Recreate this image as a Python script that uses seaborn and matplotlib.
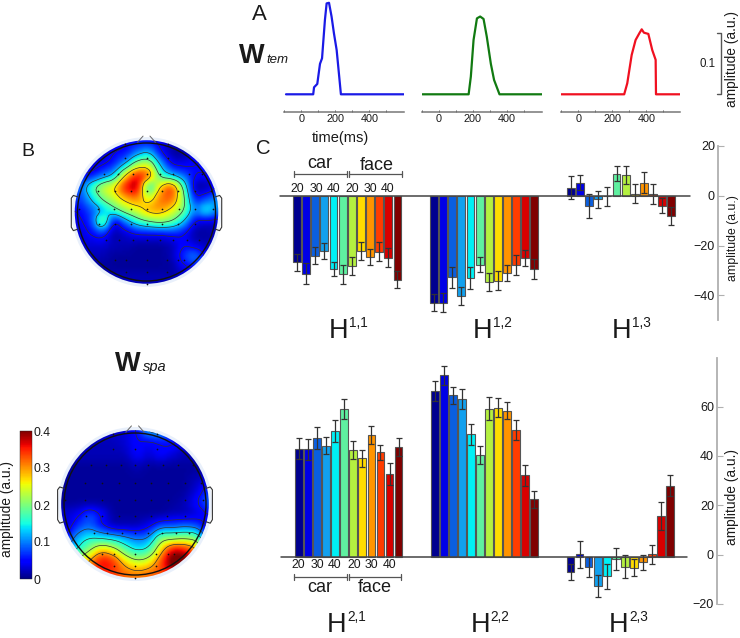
import matplotlib
matplotlib.use("Agg")
import matplotlib.pyplot as plt
from matplotlib.patches import Circle
import numpy as np
import pandas as pd
import seaborn as sns

W, H = 740, 638

# A: temporal components
time_blue = [-90, 70, 75, 94, 110, 122, 139, 149, 163, 178, 192, 208, 223, 233, 610]
amp_blue = [0, 0, .023, .034, .10, .118, .244, .298, .30, .255, .2, .145, .058, 0, 0]
time_green = [-98, 175, 188, 204, 224, 243, 263, 282, 306, 325, 357, 608]
amp_green = [0, 0, .058, .178, .249, .255, .247, .189, .10, .047, 0, 0]
time_red = [-100, 270, 288, 314, 337, 359, 373, 386, 412, 435, 455, 457, 598]
amp_red = [0, 0, .036, .129, .178, .2, .213, .202, .198, .145, .113, 0, 0]

# C: bar heights and errors, top row
h11 = [-26.7, -31.2, -23.9, -22.1, -29.3, -31.5, -28.1, -22.1, -24.5, -22.4, -24.8, -33.6]
h11_err = [3.6, 4.3, 3.5, 3.3, 2.9, 3.7, 3.5, 3.5, 3.3, 3.9, 3.9, 3.4]
h12 = [-42.9, -42.9, -32.7, -40.1, -32.9, -27.6, -34.5, -34.0, -30.9, -27.7, -24.9, -29.3]
h12_err = [3.4, 3.8, 4.2, 3.5, 4.3, 3.0, 3.7, 3.9, 3.3, 4.1, 3.1, 3.9]
h13 = [3.3, 5.3, -4.0, -1.3, -0.2, 9.0, 8.4, 1.0, 5.3, 0.8, -4.0, -8.0]
h13_err = [4.7, 3.0, 4.8, 3.4, 3.9, 3.0, 3.7, 4.0, 4.2, 4.2, 3.0, 3.5]

# bottom row
h21 = [43.8, 43.5, 48.1, 45.0, 50.9, 59.7, 43.2, 39.9, 49.2, 42.3, 33.4, 44.5]
h21_err = [4.3, 4.3, 4.3, 3.6, 4.3, 4.1, 3.7, 3.5, 3.7, 3.0, 4.5, 3.6]
h22 = [67.0, 73.4, 65.3, 63.8, 49.6, 41.1, 59.9, 60.3, 59.1, 51.4, 33.0, 23.2]
h22_err = [4.1, 3.7, 3.4, 4.0, 4.3, 3.6, 4.7, 3.8, 3.5, 4.0, 4.3, 3.4]
h23 = [-6.1, 0.9, -4.1, -11.9, -8.0, -0.9, -4.0, -4.5, -2.3, 0.9, 16.4, 28.8]
h23_err = [3.2, 5.3, 4.0, 4.5, 4.9, 4.6, 4.7, 3.5, 3.1, 3.9, 5.7, 4.2]

bar_colors = ['#00008f', '#0000e6', '#0a5fe0', '#12a0ee', '#00f0f5', '#5ff0a0',
              '#b4f040', '#ffdc00', '#ff9400', '#ff3c00', '#d80000', '#800000']
cond_labels = ['20', '30', '40', '20', '30', '40']

# B: scalp maps, values read on a 13x13 grid, front of the head on top
map_top = [
    [.02, .02, .02, .03, .05, .05, .05, .04, .02, .02, .02, .02, .02],
    [.02, .02, .02, .05, .05, .10, .13, .05, .01, .01, .04, .03, .03],
    [.03, .03, .04, .06, .12, .22, .24, .12, .04, .035, .05, .06, .05],
    [.05, .05, .09, .13, .28, .37, .33, .17, .12, .09, .05, .05, .05],
    [.08, .17, .24, .27, .37, .39, .13, .28, .35, .18, .01, .01, .05],
    [.07, .13, .20, .24, .29, .31, .24, .32, .33, .21, .05, .08, .11],
    [.05, .08, .12, .17, .22, .25, .30, .30, .26, .20, .10, .16, .10],
    [.04, .07, .22, .03, .10, .16, .19, .21, .19, .13, .04, .03, .03],
    [.03, .05, .07, .01, .03, .05, .05, .05, .06, .05, .01, .01, .02],
    [.03, .03, .03, .02, .02, .01, .01, .01, .02, .05, .03, .02, .03],
    [.02, .02, .02, .01, .01, .01, .01, .01, .02, .07, .11, .04, .02],
    [.01, .01, .01, .01, .01, .01, .01, .01, .01, .04, .05, .03, .02],
    [.02, .02, .02, .02, .02, .02, .02, .02, .02, .02, .02, .02, .02],
]
map_bottom = [
    [.03, .03, .03, .03, .03, .03, .05, .12, .12, .06, .03, .03, .03],
    [.02, .02, .02, .02, .02, .03, .05, .04, .05, .06, .03, .02, .02],
    [.02, .02, .02, .02, .02, .02, .05, .03, .05, .03, .02, .02, .02],
    [.01, .01, .01, .01, .01, .01, .02, .01, .01, .01, .01, .01, .01],
    [.01, .01, .01, .01, .01, .01, .01, .01, .01, .01, .01, .02, .03],
    [.01, .01, .01, .01, .01, .01, .01, .01, .01, .01, .01, .03, .07],
    [.01, .01, .01, .01, .01, .01, .01, .01, .01, .01, .02, .05, .09],
    [.03, .04, .08, .05, .01, .01, .01, .01, .01, .02, .02, .03, .05],
    [.02, .07, .09, .05, .02, .02, .02, .04, .08, .08, .09, .08, .03],
    [.05, .12, .15, .14, .13, .11, .09, .10, .20, .20, .21, .20, .05],
    [.10, .15, .21, .28, .25, .18, .14, .16, .27, .37, .36, .30, .15],
    [.22, .24, .30, .37, .35, .27, .23, .25, .33, .43, .43, .36, .27],
    [.28, .30, .32, .35, .34, .32, .31, .32, .33, .36, .36, .34, .30],
]
elec_x = [-.31, .31, -.31, 0, .31,
          -.62, -.41, -.2, 0, .19, .39, .61, .81,
          -.71, -.46, -.23, 0, .23, .46, .71, .93,
          -.98, -.71, -.47, -.23, 0, .23, .47, .71, .96,
          -.69, -.46, -.23, 0, .23, .45, .70,
          -.58, -.40, -.19, 0, .19, .38, .58, .76,
          -.46, -.29, 0, .29, .46, .55,
          -.29, 0, .29, 0]
elec_y = [.98, .98, .78, .78, .78,
          .55, .55, .55, .55, .55, .55, .55, .55,
          .30, .30, .30, .30, .30, .30, .30, .30,
          .05, .05, .05, .05, .05, .05, .05, .05, .05,
          -.17, -.17, -.17, -.17, -.17, -.17, -.17,
          -.41, -.41, -.41, -.41, -.41, -.41, -.41, -.41,
          -.70, -.70, -.70, -.70, -.70, -.70,
          -.87, -.87, -.87, -1.04]

sns.set_theme(style='white')
plt.rcParams['font.family'] = ['Liberation Sans', 'DejaVu Sans']
plt.rcParams['text.color'] = '#1a1a1a'
plt.rcParams['xtick.color'] = '#1a1a1a'
plt.rcParams['ytick.color'] = '#1a1a1a'

fig = plt.figure(figsize=(W / 100, H / 100), dpi=100)


def px_axes(x0, y0, x1, y1):
    ax = fig.add_axes([x0 / W, 1 - y1 / H, (x1 - x0) / W, (y1 - y0) / H])
    ax.patch.set_alpha(0)
    return ax


def txt(x, y, s, size=9, **kw):
    kw.setdefault('ha', 'center')
    kw.setdefault('va', 'center')
    fig.text(x / W, 1 - y / H, s, fontsize=size, **kw)


def time_panel(x_zero, x_lo, x_hi, t, a, color):
    scale = 0.17
    ax = px_axes(x_lo, 0, x_hi, 111.7)
    sns.lineplot(x=t, y=a, color=color, lw=1.6, ax=ax, errorbar=None)
    ax.set_xlim((x_lo - x_zero) / scale, (x_hi - x_zero) / scale)
    ax.set_ylim(-17.4 / 305, 94.3 / 305)
    sns.despine(ax=ax, left=True)
    ax.spines['bottom'].set_color('#777777')
    ax.spines['bottom'].set_linewidth(1.1)
    ax.set_yticks([])
    ax.set_xticks([0, 200, 400])
    ax.set_xticks([-100, 100, 300, 500], minor=True)
    ax.tick_params(axis='x', which='both', direction='in', length=1.5, width=.7,
                   bottom=True, color='#555555', labelsize=7.8, pad=2)


def bar_panel(groups, errs, x_first, step, zero_y, unit, y0, y1, line_lo, line_hi):
    rows = []
    for g, vals in enumerate(groups):
        for c, v in enumerate(vals):
            rows.append({'pos': g * 15 + c, 'cond': c, 'value': v, 'err': errs[g][c]})
    df = pd.DataFrame(rows)
    ax = px_axes(278, y0, 692, y1)
    sns.barplot(data=df, x='pos', y='value', hue='cond', palette=bar_colors, saturation=1,
                native_scale=True, dodge=False, width=0.86, legend=False,
                edgecolor='#555555', linewidth=.8, errorbar=None, ax=ax, zorder=2)
    ax.errorbar(df['pos'], df['value'], yerr=df['err'], fmt='none', ecolor='#333333',
                elinewidth=.9, capsize=2.2, capthick=.9, zorder=3)
    ax.set_xlim((278 - x_first) / step, (692 - x_first) / step)
    ax.set_ylim(-(y1 - zero_y) / unit, (zero_y - y0) / unit)
    ax.plot([(line_lo - x_first) / step, (line_hi - x_first) / step], [0, 0],
            color='#444444', lw=1.1, zorder=4)
    ax.axis('off')


def right_axis(x, y0, y1, top, unit, ticks, label_y, label_size):
    ax = px_axes(x, y0, x + 14, y1)
    ax.set_ylim(top - (y1 - y0) / unit, top)
    ax.set_xticks([])
    ax.set_yticks(ticks)
    sns.despine(ax=ax, right=True, top=True, bottom=True)
    ax.spines['left'].set_color('#b0b0b0')
    ax.spines['left'].set_linewidth(1.3)
    ax.tick_params(axis='y', direction='in', length=4, width=.8, color='#b0b0b0',
                   labelsize=9, pad=2, left=True)
    txt(x + 15, label_y, 'amplitude (a.u.)', size=label_size, rotation=90)


def soften(z, k=6):
    # finer raster of the read grid, so the contours come out round
    big = np.repeat(np.repeat(np.array(z), k, axis=0), k, axis=1)
    kernel = np.ones(k) / k
    for axis in (0, 1, 0, 1):
        big = np.apply_along_axis(
            lambda m: np.convolve(np.pad(m, k, mode='edge'), kernel, mode='same')[k:-k],
            axis, big)
    return big


def scalp(cx, cy, r, values, levels):
    hr = r * 1.09
    ax = px_axes(cx - hr - 16, cy - hr - 16, cx + hr + 16, cy + hr + 16)
    ax.set_xlim(-(hr + 16) / r, (hr + 16) / r)
    ax.set_ylim(-(hr + 16) / r, (hr + 16) / r)
    ax.axis('off')
    ax.add_patch(Circle((0, 0), 1.085, fc='#e9f0fb', ec='none', zorder=1))
    z = soften(np.array(values)[::-1])
    grid = np.linspace(-1.083, 1.083, z.shape[0])
    im = ax.imshow(z, extent=[-1.083, 1.083, -1.083, 1.083], origin='lower', cmap='jet',
                   vmin=0, vmax=.4, interpolation='bilinear', zorder=2, aspect='auto')
    clip = Circle((0, 0), 1.04, transform=ax.transData)
    im.set_clip_path(clip)
    cs = ax.contour(grid, grid, z, levels=levels, colors='#333333', linewidths=.5, zorder=3)
    cs.set_clip_path(clip)
    ax.add_patch(Circle((0, 0), 1, fc='none', ec='#111111', lw=1, zorder=4))
    ax.scatter(elec_x, elec_y, s=1.5, color='#111111', linewidths=0, zorder=5)
    ax.plot([-.13, -.05], [1.01, 1.10], color='#666666', lw=.7, zorder=4)
    ax.plot([.13, .05], [1.01, 1.10], color='#666666', lw=.7, zorder=4)
    for side in (-1, 1):
        ax.plot([side * 1.0, side * 1.06, side * 1.09, side * 1.09, side * 1.06, side * 1.0],
                [.22, .24, .2, -.22, -.27, -.25], color='#333333', lw=.8, zorder=4)
    return im


# A
time_panel(301.3, 284.3, 404, time_blue, amp_blue, '#1a1ae6')
time_panel(438.7, 422, 542, time_green, amp_green, '#117a11')
time_panel(578.3, 561.3, 680, time_red, amp_red, '#f01020')
txt(340, 138, 'time(ms)', size=10.5)

ax_amp = px_axes(700, 33.3, 721, 94.3)
ax_amp.plot([.8, 1, 1, .8], [0, 0, .2, .2], color='#555555', lw=1, clip_on=False)
ax_amp.set_xlim(0, 1)
ax_amp.set_ylim(0, .2)
ax_amp.axis('off')
txt(708, 64, '0.1', size=8.3)
txt(732, 59, 'amplitude (a.u.)', size=9.9, rotation=90)

# C
bar_panel([h11, h12, h13], [h11_err, h12_err, h13_err], 297, 9.13, 196, 2.49, 135, 322, 280, 690)
bar_panel([h21, h22, h23], [h21_err, h22_err, h23_err], 299, 9.05, 556.7, 2.47, 350, 615, 281, 687)
right_axis(717.7, 146, 320, 20, 2.49, [20, 0, -20, -40], 238, 8.8)
right_axis(716.7, 358, 604, 79.7, 2.466, [60, 40, 20, 0, -20], 497, 9.9)

for x, s in zip([297, 316, 334, 352.7, 370, 388], cond_labels):
    txt(x, 189, s, size=8.8)
for x, s in zip([298, 317, 335, 354, 371, 390], cond_labels):
    txt(x, 565, s, size=8.8)

ax_br = px_axes(0, 0, W, H)
ax_br.set_xlim(0, W)
ax_br.set_ylim(H, 0)
ax_br.axis('off')
for y, (a, b, c, d) in [(174.3, (293.7, 346.7, 349, 401.7)), (576.7, (293.7, 347, 348.7, 400.7))]:
    for lo, hi in [(a, b), (c, d)]:
        ax_br.plot([lo, hi], [y, y], color='#555555', lw=.9)
        ax_br.plot([lo, lo], [y - 3, y + 3], color='#555555', lw=.9)
        ax_br.plot([hi, hi], [y - 3, y + 3], color='#555555', lw=.9)
txt(320, 164, 'car', size=13)
txt(376.7, 165, 'face', size=13)
txt(320, 587, 'car', size=13)
txt(375, 587, 'face', size=13)

for x, y, s in [(329, 338, '1,1'), (472.7, 338, '1,2'), (611.7, 338, '1,3'),
                (327, 632, '2,1'), (470.7, 632, '2,2'), (609, 632, '2,3')]:
    txt(x, y, 'H', size=19.5, ha='left', va='baseline')
    txt(x + 20, y - 11, s, size=9.8, ha='left', va='baseline')

# B
im = scalp(146.5, 212, 69, map_top, [.05, .13, .19, .27])
scalp(135, 504, 71, map_bottom, [.05, .1, .15, .22, .29])
cax = px_axes(20, 431, 32, 579)
cb = fig.colorbar(im, cax=cax, ticks=[0, .1, .2, .3, .4])
cb.ax.set_yticklabels(['0', '0.1', '0.2', '0.3', '0.4'])
cb.ax.tick_params(length=0, labelsize=8.8, pad=1)
cb.outline.set_linewidth(.3)
txt(7.5, 509, 'amplitude (a.u.)', size=9.9, rotation=90)

# letters and component names
txt(259.5, 14, 'A', size=16)
txt(28, 152, 'B', size=14)
txt(263, 148, 'C', size=14.6)
txt(239, 63, 'W', size=19.5, weight='bold', ha='left', va='baseline')
txt(266, 63, 'tem', size=9.5, style='italic', ha='left', va='baseline')
txt(115, 371, 'W', size=19.5, weight='bold', ha='left', va='baseline')
txt(143, 371, 'spa', size=10.5, style='italic', ha='left', va='baseline')

fig.savefig('out.png', dpi=100)
